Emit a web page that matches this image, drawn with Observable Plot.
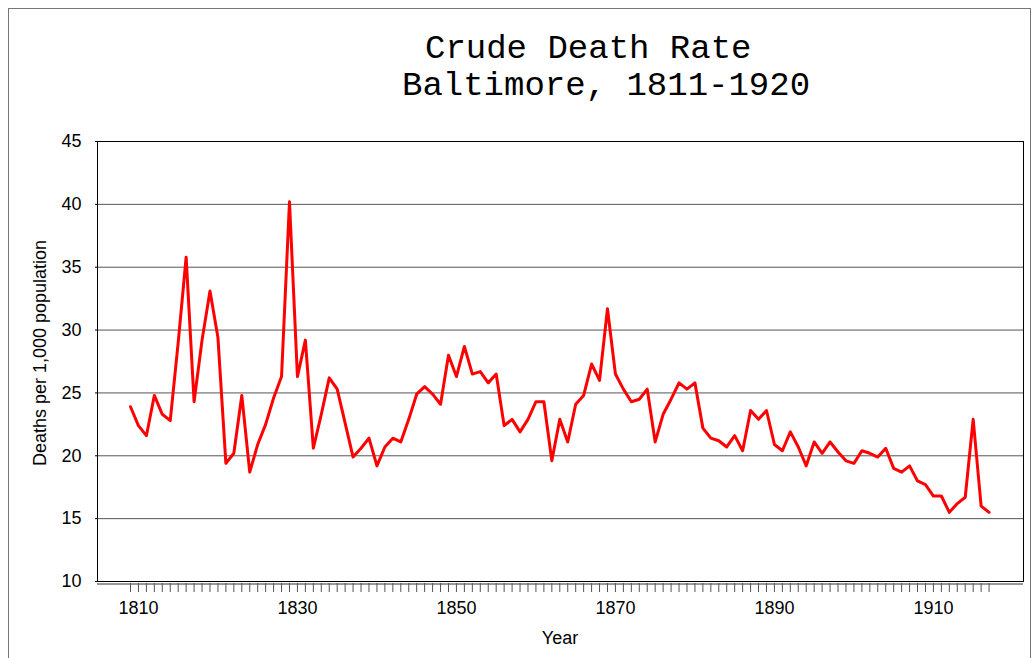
<!DOCTYPE html>
<html><head><meta charset="utf-8">
<script src="https://cdn.jsdelivr.net/npm/d3@7"></script>
<script src="https://cdn.jsdelivr.net/npm/@observablehq/plot@0.6"></script>
<style>
body{margin:0;background:#fff;}
#wrap{position:relative;width:1034px;height:658px;overflow:hidden;}
.border{position:absolute;left:8px;top:8px;width:1021px;height:700px;border:1px solid #777;}
.title{position:absolute;font-family:"Liberation Mono",monospace;font-size:34px;line-height:34px;white-space:pre;color:#000;}
.lab{position:absolute;font-family:"Liberation Sans",Arial,sans-serif;font-size:18px;line-height:18px;white-space:nowrap;color:#000;}
#wrap svg{position:absolute;left:0;top:0;}
#wrap svg text{font-size:18px;}
</style></head><body>
<div id="wrap">
  <div class="border"></div>
  <div class="title" style="left:425px;top:32px;">Crude Death Rate</div>
  <div class="title" style="left:402px;top:69px;">Baltimore, 1811-1920</div>
  <div class="lab" style="left:560px;top:629px;transform:translateX(-50%);">Year</div>
  <div class="lab" style="left:40px;top:353px;transform:translate(-50%,-50%) rotate(-90deg);">Deaths per 1,000 population</div>
</div>
<script>
const startYear = 1809;
const rates = [
  23.9, 22.4, 21.6, 24.8, 23.3, 22.8, 29.0, 35.8, 24.3, 29.2,
  33.1, 29.4, 19.4, 20.2, 24.8, 18.7, 20.9, 22.5, 24.6, 26.3,
  40.2, 26.3, 29.2, 20.6, 23.3, 26.2, 25.3, 22.6, 19.9, 20.6,
  21.4, 19.2, 20.7, 21.4, 21.1, 22.9, 24.9, 25.5, 24.9, 24.1,
  28.0, 26.3, 28.7, 26.5, 26.7, 25.8, 26.5, 22.4, 22.9, 21.9,
  22.9, 24.3, 24.3, 19.6, 22.9, 21.1, 24.1, 24.8, 27.3, 26.0,
  31.7, 26.5, 25.3, 24.3, 24.5, 25.3, 21.1, 23.3, 24.5, 25.8,
  25.3, 25.8, 22.2, 21.4, 21.2, 20.7, 21.6, 20.4, 23.6, 22.9,
  23.6, 20.9, 20.4, 21.9, 20.7, 19.2, 21.1, 20.2, 21.1, 20.3,
  19.6, 19.4, 20.4, 20.2, 19.9, 20.6, 19.0, 18.7, 19.2, 18.0,
  17.7, 16.8, 16.8, 15.5, 16.2, 16.7, 22.9, 16.0, 15.5
];
const years = rates.map((_, i) => startYear + i);
const tickYears = years.slice();
const labelYears = [1810, 1830, 1850, 1870, 1890, 1910];
const yTicks = [10, 15, 20, 25, 30, 35, 40, 45];
const gridValues = [15, 20, 25, 30, 35, 40];

const data = years.map((year, i) => ({year, rate: rates[i]}));

const chart = Plot.plot({
  width: 1034, height: 658,
  marginLeft: 97, marginRight: 11, marginTop: 141, marginBottom: 77,
  style: {background: "transparent", fontFamily: "Liberation Sans, Arial, sans-serif", fontSize: "18px", color: "#000"},
  x: {domain: [1804.85, 1921.33]},
  y: {domain: [10, 45]},
  marks: [
    Plot.ruleY(gridValues, {stroke: "#555", strokeWidth: 1, strokeOpacity: 1}),
    Plot.frame({stroke: "#000", strokeWidth: 1}),
    Plot.ruleY([10], {stroke: "#333", dy: 2.5}),
    Plot.axisY({ticks: yTicks, tickSize: 2, tickPadding: 14, label: null, tickFormat: d => String(d)}),
    Plot.axisX({ticks: tickYears, tickSize: 9, tickFormat: () => "", label: null, stroke: "#555", dy: 2}),
    Plot.axisX({ticks: labelYears, tickSize: 0, tickPadding: 20, tickFormat: d => String(d), label: null}),
    Plot.line(data, {x: "year", y: "rate", stroke: "#ff0000", strokeWidth: 3})
  ]
});
document.getElementById("wrap").appendChild(chart);
</script>
</body></html>
